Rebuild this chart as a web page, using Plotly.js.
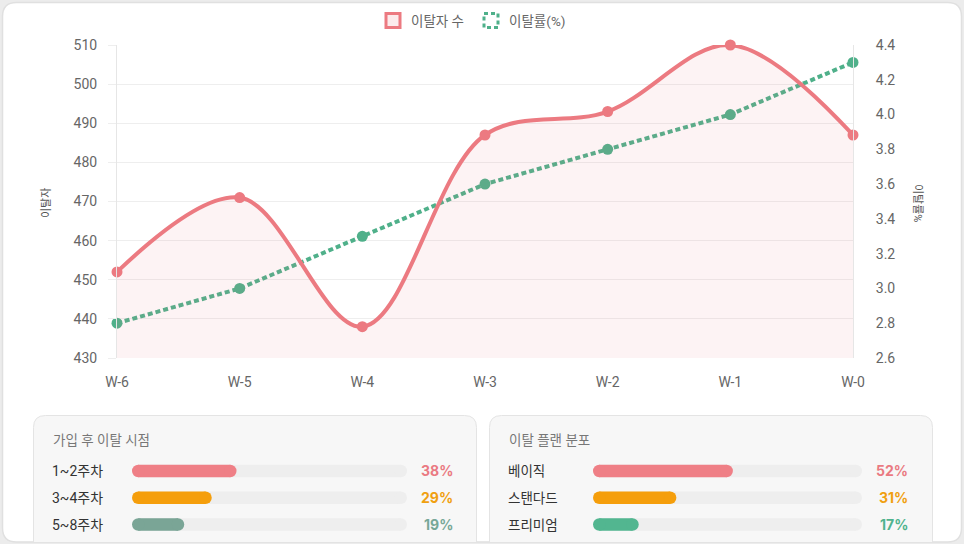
<!DOCTYPE html>
<html>
<head>
<meta charset="utf-8">
<script src="https://cdn.plot.ly/plotly-3.0.1.min.js"></script>
<style>
  html, body { margin: 0; padding: 0; background: #ececec; }
  #chart { width: 964px; height: 544px; }
</style>
</head>
<body>
<div id="chart"></div>
<script>
// ---- data ----
const weeks = ['W-6', 'W-5', 'W-4', 'W-3', 'W-2', 'W-1', 'W-0'];
const churnCount = [452, 471, 438, 487, 493, 510, 487];
const churnRate = [2.8, 3.0, 3.3, 3.6, 3.8, 4.0, 4.3];

const timingLabels = ['1~2주차', '3~4주차', '5~8주차'];
const timingPct = [38, 29, 19];

const planLabels = ['베이직', '스탠다드', '프리미엄'];
const planPct = [52, 31, 17];

const seriesNames = ['이탈자 수', '이탈률(%)'];
const panelTitles = ['가입 후 이탈 시점', '이탈 플랜 분포'];
const axisTitles = ['이탈자', '이탈률%'];

// ---- styles ----
const W = 964, H = 544;
const RED = '#ec7a81', GREEN = '#4fb08a';
const TRACK = '#eeeeee';
const timingColors = ['#ef7f86', '#f59e0b', '#7aa596'];
const timingTextColors = ['#ea7a82', '#f0a010', '#77a898'];
const planColors = ['#ef7f86', '#f59e0b', '#52b690'];
const planTextColors = ['#ea7a82', '#f0a010', '#4fb38e'];
const FONT = 'Roboto, "Noto Sans CJK KR", sans-serif';

const X = v => v / W;
const Y = v => 1 - v / H;

function rr(x0, y0, x1, y1, r) {
  return `M${X(x0 + r)},${Y(y0)} L${X(x1 - r)},${Y(y0)} Q${X(x1)},${Y(y0)} ${X(x1)},${Y(y0 + r)} ` +
         `L${X(x1)},${Y(y1 - r)} Q${X(x1)},${Y(y1)} ${X(x1 - r)},${Y(y1)} L${X(x0 + r)},${Y(y1)} ` +
         `Q${X(x0)},${Y(y1)} ${X(x0)},${Y(y1 - r)} L${X(x0)},${Y(y0 + r)} Q${X(x0)},${Y(y0)} ${X(x0 + r)},${Y(y0)} Z`;
}
function panelPath(x0, y0, x1, y1, r) {
  return `M${X(x0)},${Y(y1)} L${X(x0)},${Y(y0 + r)} Q${X(x0)},${Y(y0)} ${X(x0 + r)},${Y(y0)} ` +
         `L${X(x1 - r)},${Y(y0)} Q${X(x1)},${Y(y0)} ${X(x1)},${Y(y0 + r)} L${X(x1)},${Y(y1)}`;
}

// rounded progress bars: a bar shortened by the cap radius at each end + round caps
const BAR_PX = 12.5;
function pillBars(labels, values, colors, xa, ya, trackPx) {
  const r = (BAR_PX / 2) / trackPx * 100; // cap radius in axis units
  const out = [];
  const addPill = (vals, col) => {
    out.push({
      type: 'bar', orientation: 'h', xaxis: xa, yaxis: ya,
      y: labels, base: labels.map(() => r), x: vals.map(v => v - 2 * r),
      marker: { color: col, line: { width: 0 } }, hoverinfo: 'skip'
    });
  };
  // track: only the right cap (the left end is covered by the value bar's cap)
  out.push({
    type: 'scatter', mode: 'markers', xaxis: xa, yaxis: ya, cliponaxis: false,
    y: labels, x: labels.map(() => 100 - r),
    marker: { color: TRACK, size: BAR_PX, line: { width: 0 } }, hoverinfo: 'skip'
  });
  addPill(labels.map(() => 100), TRACK);
  addPill(values, colors);
  out.push({
    type: 'scatter', mode: 'markers', xaxis: xa, yaxis: ya, cliponaxis: false,
    y: labels.flatMap(l => [l, l]),
    x: values.flatMap(v => [r, v - r]),
    marker: { color: colors.flatMap(c => [c, c]), size: BAR_PX, line: { width: 0 } },
    hoverinfo: 'skip'
  });
  return out;
}

const traces = [
  {
    x: weeks, y: churnRate, name: seriesNames[1], type: 'scatter', mode: 'lines+markers',
    xaxis: 'x', yaxis: 'y2', cliponaxis: false,
    line: { color: GREEN, width: 4, dash: '5px,3px' },
    marker: { color: GREEN, size: 11 },
    hoverinfo: 'skip'
  },
  {
    x: weeks, y: churnCount, name: seriesNames[0], type: 'scatter', mode: 'lines+markers',
    xaxis: 'x', yaxis: 'y', cliponaxis: false,
    line: { color: RED, width: 4, shape: 'spline', smoothing: 1 },
    marker: { color: RED, size: 11 },
    fill: 'tozeroy', fillcolor: 'rgba(236,122,129,0.09)',
    hoverinfo: 'skip'
  },
  ...pillBars(timingLabels, timingPct, timingColors, 'x3', 'y3', 275),
  ...pillBars(planLabels, planPct, planColors, 'x4', 'y4', 269)
];

const annotations = [];
// legend text
annotations.push({ xref: 'paper', yref: 'paper', x: X(409), y: Y(21), xanchor: 'left', yanchor: 'middle',
  text: seriesNames[0], showarrow: false, font: { family: FONT, size: 13.5, color: '#666' } });
annotations.push({ xref: 'paper', yref: 'paper', x: X(507), y: Y(21), xanchor: 'left', yanchor: 'middle',
  text: seriesNames[1], showarrow: false, font: { family: FONT, size: 13.5, color: '#666' } });
// axis titles
annotations.push({ xref: 'paper', yref: 'paper', x: X(46), y: Y(203), xanchor: 'center', yanchor: 'middle',
  text: axisTitles[0], textangle: -90, showarrow: false, font: { family: FONT, size: 11, color: '#555' } });
annotations.push({ xref: 'paper', yref: 'paper', x: X(918), y: Y(203), xanchor: 'center', yanchor: 'middle',
  text: axisTitles[1], textangle: 90, showarrow: false, font: { family: FONT, size: 11, color: '#555' } });
// panel titles
annotations.push({ xref: 'paper', yref: 'paper', x: X(51), y: Y(440), xanchor: 'left', yanchor: 'middle',
  text: panelTitles[0], showarrow: false, font: { family: FONT, size: 13.5, color: '#777' } });
annotations.push({ xref: 'paper', yref: 'paper', x: X(507), y: Y(440), xanchor: 'left', yanchor: 'middle',
  text: panelTitles[1], showarrow: false, font: { family: FONT, size: 13.5, color: '#777' } });
// row labels + percentages
timingLabels.forEach((lab, i) => {
  annotations.push({ xref: 'paper', yref: 'y3', x: X(50), y: lab, xanchor: 'left', yanchor: 'middle',
    text: lab, showarrow: false, font: { family: FONT, size: 14, color: '#333' } });
  annotations.push({ xref: 'paper', yref: 'y3', x: X(455), y: lab, xanchor: 'right', yanchor: 'middle',
    text: '<b>' + timingPct[i] + '%</b>', showarrow: false, font: { family: 'Inter, ' + FONT, size: 14, color: timingTextColors[i] } });
});
planLabels.forEach((lab, i) => {
  annotations.push({ xref: 'paper', yref: 'y4', x: X(506), y: lab, xanchor: 'left', yanchor: 'middle',
    text: lab, showarrow: false, font: { family: FONT, size: 13.5, color: '#333' } });
  annotations.push({ xref: 'paper', yref: 'y4', x: X(910), y: lab, xanchor: 'right', yanchor: 'middle',
    text: '<b>' + planPct[i] + '%</b>', showarrow: false, font: { family: 'Inter, ' + FONT, size: 14, color: planTextColors[i] } });
});

const shapes = [
  { type: 'path', xref: 'paper', yref: 'paper', path: rr(2.5, 2.5, 961.5, 542, 14),
    fillcolor: '#ffffff', line: { color: '#e0e0e0', width: 1.5 }, layer: 'below' },
  { type: 'path', xref: 'paper', yref: 'paper', path: panelPath(33.5, 415.5, 476.5, 542, 12),
    fillcolor: '#f7f7f7', line: { color: '#e4e4e4', width: 1 }, layer: 'below' },
  { type: 'path', xref: 'paper', yref: 'paper', path: panelPath(489.5, 415.5, 932.5, 542, 12),
    fillcolor: '#f7f7f7', line: { color: '#e4e4e4', width: 1 }, layer: 'below' },
  // legend boxes
  { type: 'rect', xref: 'paper', yref: 'paper', x0: X(386), x1: X(400), y0: Y(13.5), y1: Y(27.5),
    fillcolor: 'rgba(236,122,129,0.15)', line: { color: RED, width: 3 } },
  { type: 'rect', xref: 'paper', yref: 'paper', x0: X(484), x1: X(498), y0: Y(13.5), y1: Y(27.5),
    fillcolor: 'rgba(255,255,255,0)', line: { color: GREEN, width: 3, dash: '4px,3px' } }
];

const yDomBars = [Y(537.9), Y(457.6)];

const layout = {
  width: W, height: H,
  margin: { l: 0, r: 0, t: 0, b: 0 },
  paper_bgcolor: '#ececec',
  plot_bgcolor: 'rgba(0,0,0,0)',
  showlegend: false,
  barmode: 'overlay',
  bargap: 0.533,
  hovermode: false,
  font: { family: FONT, size: 13, color: '#666' },
  xaxis: {
    domain: [X(117), X(853)], type: 'category', range: [0, 6], anchor: 'y',
    showgrid: false, zeroline: false, showline: false,
    ticks: 'outside', ticklen: 11, tickcolor: 'rgba(0,0,0,0)',
    tickfont: { family: FONT, size: 14, color: '#666' }
  },
  yaxis: {
    domain: [Y(358), Y(45)], range: [430, 510], dtick: 10, anchor: 'x', side: 'left',
    overlaying: 'y2',
    gridcolor: '#eeeeee', gridwidth: 1, zeroline: false,
    showline: true, linecolor: '#e6e6e6', linewidth: 1,
    ticks: 'outside', ticklen: 8, tickcolor: '#eeeeee', ticklabelstandoff: 8,
    tickfont: { family: FONT, size: 14, color: '#666' }
  },
  yaxis2: {
    domain: [Y(358), Y(45)], range: [2.6, 4.4], dtick: 0.2, tickformat: '.1f', anchor: 'x', side: 'right',
    showgrid: false, zeroline: false,
    showline: true, linecolor: '#e6e6e6', linewidth: 1,
    ticks: '', ticklabelstandoff: 19,
    tickfont: { family: FONT, size: 14, color: '#666' }
  },
  xaxis3: { domain: [X(132), X(407)], range: [0, 100], anchor: 'y3', visible: false, fixedrange: true },
  yaxis3: { domain: yDomBars, type: 'category', range: [2.5, -0.5], anchor: 'x3', visible: false, fixedrange: true },
  xaxis4: { domain: [X(593), X(862)], range: [0, 100], anchor: 'y4', visible: false, fixedrange: true },
  yaxis4: { domain: yDomBars, type: 'category', range: [2.5, -0.5], anchor: 'x4', visible: false, fixedrange: true },
  shapes: shapes,
  annotations: annotations
};

Plotly.newPlot('chart', traces, layout, { displayModeBar: false, staticPlot: true });
</script>
</body>
</html>
